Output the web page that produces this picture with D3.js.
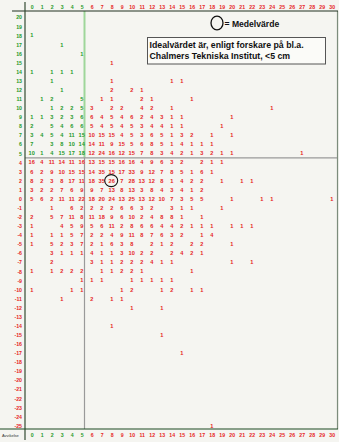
<!DOCTYPE html>
<html lang="sv">
<head>
<meta charset="utf-8">
<script src="https://d3js.org/d3.v7.min.js"></script>
<style>
  body { margin: 0; background: #f5f5f1; }
  text { font-family: Arial, "Liberation Sans", sans-serif; }
</style>
</head>
<body>
<script>
// avvikelse i x (kolumner) och y (rader)
var xLabels = [0,1,2,3,4,5,6,7,8,9,10,11,12,13,14,15,16,17,18,19,20,21,22,23,24,25,26,27,28,29,30];
var yLabels = [20,19,18,17,16,15,14,13,12,11,10,9,8,7,6,5,4,3,2,1,0,-1,-2,-3,-4,-5,-6,-7,-8,-9,-10,-11,-12,-13,-14,-15,-16,-17,-18,-19,-20,-21,-22,-23,-24,-25];

// antal per cell, en rad per y-värde (0 = tom)
//            0  1  2  3  4  5  6  7  8  9 10 11 12 13 14 15 16 17 18 19 20 21 22 23 24 25 26 27 28 29 30
var counts = [
  /* 20 */ [ 0, 0, 0, 0, 0, 0, 0, 0, 0, 0, 0, 0, 0, 0, 0, 0, 0, 0, 0, 0, 0, 0, 0, 0, 0, 0, 0, 0, 0, 0, 0],
  /* 19 */ [ 0, 0, 0, 0, 0, 0, 0, 0, 0, 0, 0, 0, 0, 0, 0, 0, 0, 0, 0, 0, 0, 0, 0, 0, 0, 0, 0, 0, 0, 0, 0],
  /* 18 */ [ 1, 0, 0, 0, 0, 0, 0, 0, 0, 0, 0, 0, 0, 0, 0, 0, 0, 0, 0, 0, 0, 0, 0, 0, 0, 0, 0, 0, 0, 0, 0],
  /* 17 */ [ 0, 0, 0, 1, 0, 0, 0, 0, 0, 0, 0, 0, 0, 0, 0, 0, 0, 0, 0, 0, 0, 0, 0, 0, 0, 0, 0, 0, 0, 0, 0],
  /* 16 */ [ 0, 0, 0, 0, 0, 1, 0, 0, 0, 0, 0, 0, 0, 0, 0, 0, 0, 0, 0, 0, 0, 0, 0, 0, 0, 0, 0, 0, 0, 0, 0],
  /* 15 */ [ 0, 0, 0, 0, 0, 0, 0, 0, 1, 0, 0, 0, 0, 0, 0, 0, 0, 0, 0, 0, 0, 0, 0, 0, 0, 0, 0, 0, 0, 0, 0],
  /* 14 */ [ 1, 0, 1, 1, 1, 0, 0, 0, 0, 0, 0, 0, 0, 0, 0, 0, 0, 0, 0, 0, 0, 0, 0, 0, 0, 0, 0, 0, 0, 0, 0],
  /* 13 */ [ 0, 0, 1, 0, 0, 0, 0, 0, 1, 0, 0, 0, 0, 0, 1, 1, 0, 0, 0, 0, 0, 0, 0, 0, 0, 0, 0, 0, 0, 0, 0],
  /* 12 */ [ 0, 0, 0, 1, 0, 0, 0, 0, 2, 0, 2, 1, 0, 0, 0, 0, 0, 0, 0, 0, 0, 0, 0, 0, 0, 0, 0, 0, 0, 0, 0],
  /* 11 */ [ 0, 1, 2, 0, 0, 5, 0, 1, 1, 0, 0, 2, 1, 0, 0, 0, 1, 0, 0, 0, 0, 0, 0, 0, 0, 0, 0, 0, 0, 0, 0],
  /* 10 */ [ 0, 0, 1, 2, 2, 5, 3, 0, 2, 2, 0, 4, 2, 0, 1, 0, 0, 0, 0, 0, 0, 0, 0, 0, 1, 0, 0, 0, 0, 0, 0],
  /*  9 */ [ 1, 1, 3, 2, 3, 6, 6, 4, 5, 4, 6, 2, 4, 3, 1, 1, 0, 0, 0, 0, 1, 0, 0, 0, 0, 0, 0, 0, 0, 0, 0],
  /*  8 */ [ 2, 0, 5, 4, 6, 6, 5, 4, 5, 4, 5, 3, 4, 4, 1, 1, 0, 0, 0, 1, 0, 0, 0, 0, 0, 0, 0, 0, 0, 0, 0],
  /*  7 */ [ 3, 4, 5, 4,11,15,10,15,15, 4, 5, 3, 6, 5, 1, 3, 2, 0, 1, 0, 1, 0, 0, 0, 0, 0, 0, 0, 0, 0, 0],
  /*  6 */ [ 7, 0, 3, 8,10,14,14,11, 9,15, 5, 6, 8, 5, 1, 4, 1, 1, 1, 0, 0, 0, 0, 0, 0, 0, 0, 0, 0, 0, 0],
  /*  5 */ [10, 1, 4,15,17,18,12,24,16,12,15, 7, 8, 3, 4, 2, 1, 3, 2, 1, 1, 0, 0, 0, 0, 0, 0, 1, 0, 0, 0],
  /*  4 */ [16, 4,11,14,11,16,13,15,15,16,16, 4, 9, 6, 3, 2, 0, 2, 1, 1, 0, 0, 0, 0, 0, 0, 0, 0, 0, 0, 0],
  /*  3 */ [ 6, 2, 9,10,15,15,14,35,15,17,33, 9,12, 7, 8, 5, 1, 6, 1, 0, 0, 0, 0, 0, 0, 0, 0, 0, 0, 0, 0],
  /*  2 */ [ 8, 2, 3, 8,17,11,18,35,26, 7,28,13,12, 8, 1, 4, 2, 2, 0, 1, 0, 1, 1, 0, 0, 0, 0, 0, 0, 0, 0],
  /*  1 */ [ 3, 2, 2, 7, 6, 9, 9, 7,13, 8,13, 3, 8, 4, 3, 4, 1, 2, 0, 0, 0, 0, 0, 0, 0, 0, 0, 0, 0, 0, 0],
  /*  0 */ [ 5, 6, 2,11,11,22,18,20,24,13,25,13,12,10, 7, 3, 5, 5, 0, 0, 1, 0, 0, 1, 1, 0, 0, 0, 0, 0, 1],
  /* -1 */ [ 0, 0, 1, 0, 6, 2, 2, 2, 2, 6, 6, 3, 2, 0, 3, 1, 1, 0, 0, 1, 0, 0, 0, 0, 0, 0, 0, 0, 0, 0, 0],
  /* -2 */ [ 2, 0, 5, 7,11, 8,11,18, 9, 6,10, 2, 4, 8, 8, 1, 0, 1, 0, 0, 0, 0, 0, 0, 0, 0, 0, 0, 0, 0, 0],
  /* -3 */ [ 1, 0, 0, 4, 5, 9, 5, 6,11, 2, 8, 6, 6, 4, 4, 2, 1, 1, 1, 0, 1, 1, 1, 0, 0, 0, 0, 0, 0, 0, 0],
  /* -4 */ [ 1, 0, 1, 1, 5, 7, 2, 2, 4, 9,11, 8, 7, 6, 3, 2, 0, 1, 4, 0, 0, 0, 0, 0, 0, 0, 0, 0, 0, 0, 0],
  /* -5 */ [ 1, 0, 5, 2, 3, 7, 2, 1, 6, 3, 8, 0, 2, 1, 2, 0, 2, 2, 0, 0, 1, 0, 0, 0, 0, 0, 0, 0, 0, 0, 0],
  /* -6 */ [ 0, 0, 3, 1, 1, 1, 4, 1, 1, 3,10, 2, 2, 0, 2, 4, 2, 1, 0, 0, 0, 0, 0, 0, 0, 0, 0, 0, 0, 0, 0],
  /* -7 */ [ 0, 0, 2, 0, 0, 0, 3, 1, 1, 2, 2, 2, 4, 1, 1, 0, 0, 0, 0, 0, 1, 0, 1, 0, 0, 0, 0, 0, 0, 0, 0],
  /* -8 */ [ 1, 0, 1, 2, 2, 2, 0, 1, 1, 2, 2, 1, 0, 0, 0, 0, 1, 0, 0, 0, 0, 0, 0, 0, 0, 0, 0, 0, 0, 0, 0],
  /* -9 */ [ 0, 0, 0, 0, 0, 1, 1, 1, 0, 0, 1, 1, 1, 1, 1, 0, 0, 0, 0, 0, 0, 0, 0, 0, 0, 0, 0, 0, 0, 0, 0],
  /*-10 */ [ 1, 0, 0, 0, 1, 1, 0, 0, 0, 1, 2, 0, 0, 1, 2, 0, 1, 1, 0, 0, 0, 0, 0, 0, 0, 0, 0, 0, 0, 0, 0],
  /*-11 */ [ 0, 0, 0, 1, 0, 0, 2, 0, 1, 1, 0, 0, 0, 0, 0, 0, 0, 0, 0, 0, 0, 0, 0, 0, 0, 0, 0, 0, 0, 0, 0],
  /*-12 */ [ 0, 0, 0, 0, 0, 0, 0, 0, 0, 0, 1, 0, 0, 1, 0, 0, 0, 0, 0, 0, 0, 0, 0, 0, 0, 0, 0, 0, 0, 0, 0],
  /*-13 */ [ 0, 0, 0, 0, 0, 0, 0, 0, 0, 0, 0, 0, 0, 0, 0, 0, 0, 0, 0, 0, 0, 0, 0, 0, 0, 0, 0, 0, 0, 0, 0],
  /*-14 */ [ 0, 0, 0, 0, 0, 0, 0, 0, 1, 0, 0, 0, 0, 0, 0, 0, 0, 0, 0, 0, 0, 0, 0, 0, 0, 0, 0, 0, 0, 0, 0],
  /*-15 */ [ 0, 0, 0, 0, 0, 0, 0, 0, 0, 0, 0, 0, 0, 1, 0, 0, 0, 0, 0, 0, 0, 0, 0, 0, 0, 0, 0, 0, 0, 0, 0],
  /*-16 */ [ 0, 0, 0, 0, 0, 0, 0, 0, 0, 0, 0, 0, 0, 0, 0, 0, 0, 0, 0, 0, 0, 0, 0, 0, 0, 0, 0, 0, 0, 0, 0],
  /*-17 */ [ 0, 0, 0, 0, 0, 0, 0, 0, 0, 0, 0, 0, 0, 0, 0, 1, 0, 0, 0, 0, 0, 0, 0, 0, 0, 0, 0, 0, 0, 0, 0],
  /*-18 */ [ 0, 0, 0, 0, 0, 0, 0, 0, 0, 0, 0, 0, 0, 0, 0, 0, 0, 0, 0, 0, 0, 0, 0, 0, 0, 0, 0, 0, 0, 0, 0],
  /*-19 */ [ 0, 0, 0, 0, 0, 0, 0, 0, 0, 0, 0, 0, 0, 0, 0, 0, 0, 0, 0, 0, 0, 0, 0, 0, 0, 0, 0, 0, 0, 0, 0],
  /*-20 */ [ 0, 0, 0, 0, 0, 0, 0, 0, 0, 0, 0, 0, 0, 0, 0, 0, 0, 0, 0, 0, 0, 0, 0, 0, 0, 0, 0, 0, 0, 0, 0],
  /*-21 */ [ 0, 0, 0, 0, 0, 0, 0, 0, 0, 0, 0, 0, 0, 0, 0, 0, 0, 0, 0, 0, 0, 0, 0, 0, 0, 0, 0, 0, 0, 0, 0],
  /*-22 */ [ 0, 0, 0, 0, 0, 0, 0, 0, 0, 0, 0, 0, 0, 0, 0, 0, 0, 0, 0, 0, 0, 0, 0, 0, 0, 0, 0, 0, 0, 0, 0],
  /*-23 */ [ 0, 0, 0, 0, 0, 0, 0, 0, 0, 0, 0, 0, 0, 0, 0, 0, 0, 0, 0, 0, 0, 0, 0, 0, 0, 0, 0, 0, 0, 0, 0],
  /*-24 */ [ 0, 0, 0, 0, 0, 0, 0, 0, 0, 0, 0, 0, 0, 0, 0, 0, 0, 0, 0, 0, 0, 0, 0, 0, 0, 0, 0, 0, 0, 0, 0],
  /*-25 */ [ 0, 0, 0, 0, 0, 0, 0, 0, 0, 0, 0, 0, 0, 0, 0, 0, 0, 0, 1, 0, 0, 0, 0, 0, 0, 0, 0, 0, 0, 0, 0]
];

var meanCell = [8, 2];      // medelvärdet
var idealLimit = 5;         // <5 cm = grönt
var noteLines = ["Idealvärdet är, enligt forskare på bl.a.", "Chalmers Tekniska Institut, <5 cm"];

var red = "#e61e1e", green = "#1f9a2a";

var width = 339, height = 442;

var x = d3.scalePoint().domain(xLabels).range([31.7, 331.7]);
var y = d3.scalePoint().domain(yLabels).range([17.3, 425.6]);

function isGood(xv, yv) { return xv <= idealLimit && yv >= idealLimit; }

var svg = d3.select("body").append("svg")
    .attr("width", width)
    .attr("height", height);

svg.append("rect").attr("width", width).attr("height", height).attr("fill", "#f5f5f1");

// grid lines
var splitX = x(idealLimit) + 2.8;
var splitY = (y(idealLimit) + y(idealLimit - 1)) / 2;

svg.append("line").attr("x1", splitX).attr("x2", splitX).attr("y1", 11).attr("y2", splitY)
    .attr("stroke", "#9fd69a").attr("stroke-width", 2);
svg.append("line").attr("x1", splitX).attr("x2", splitX).attr("y1", splitY).attr("y2", 429)
    .attr("stroke", "#9a9a9a").attr("stroke-width", 1.2);
svg.append("line").attr("x1", 25).attr("x2", 337).attr("y1", splitY).attr("y2", splitY)
    .attr("stroke", "#9a9a9a").attr("stroke-width", 1.2);
svg.append("line").attr("x1", 337.5).attr("x2", 337.5).attr("y1", 11).attr("y2", 429)
    .attr("stroke", "#7c8c7c").attr("stroke-width", 1.2);

// axes frame
svg.append("line").attr("x1", 12).attr("x2", 338).attr("y1", 11).attr("y2", 11)
    .attr("stroke", "#223322").attr("stroke-width", 1.2);
svg.append("line").attr("x1", 25).attr("x2", 25).attr("y1", 2).attr("y2", 440)
    .attr("stroke", "#334a33").attr("stroke-width", 1.2);
svg.append("line").attr("x1", 0).attr("x2", 338).attr("y1", 429).attr("y2", 429)
    .attr("stroke", "#1d4a22").attr("stroke-width", 1.2);

function styleAxis(g, colorFn) {
  g.select(".domain").remove();
  g.selectAll(".tick line").remove();
  g.selectAll(".tick text")
    .attr("font-size", 5.2)
    .attr("font-weight", "bold")
    .attr("font-family", "Arial, 'Liberation Sans', sans-serif")
    .attr("fill", colorFn);
}

var colColor = function(d) { return d <= idealLimit ? green : red; };
var rowColor = function(d) { return d >= idealLimit ? green : red; };

svg.append("g").attr("transform", "translate(0,9)")
    .call(d3.axisTop(x).tickSize(0).tickPadding(0))
    .call(function(g) { styleAxis(g, colColor); });

svg.append("g").attr("transform", "translate(0,437)")
    .call(d3.axisBottom(x).tickSize(0).tickPadding(0))
    .call(function(g) { styleAxis(g, colColor); g.selectAll(".tick text").attr("dy", "0"); });

svg.append("g").attr("transform", "translate(22,0)")
    .call(d3.axisLeft(y).tickSize(0).tickPadding(0))
    .call(function(g) { styleAxis(g, rowColor); });

svg.append("text").attr("x", 2).attr("y", 437)
    .attr("font-size", 4).attr("fill", "#333").text("Avvikelse");

// cells
var cells = [];
counts.forEach(function(row, i) {
  row.forEach(function(v, j) {
    if (v > 0) cells.push({ x: xLabels[j], y: yLabels[i], n: v });
  });
});

svg.append("g").selectAll("text")
  .data(cells)
  .enter().append("text")
    .attr("x", function(d) { return x(d.x); })
    .attr("y", function(d) { return y(d.y); })
    .attr("dy", "0.36em")
    .attr("text-anchor", "middle")
    .attr("font-size", 5.6)
    .attr("font-weight", "bold")
    .attr("fill", function(d) { return isGood(d.x, d.y) ? green : red; })
    .text(function(d) { return d.n; });

// medelvärde
svg.append("ellipse")
    .attr("cx", x(meanCell[0]) - 0.5).attr("cy", y(meanCell[1]))
    .attr("rx", 6.5).attr("ry", 6)
    .attr("fill", "none").attr("stroke", "#111").attr("stroke-width", 1.1);

// legend
svg.append("ellipse").attr("cx", 217).attr("cy", 23).attr("rx", 6).attr("ry", 6.8)
    .attr("fill", "none").attr("stroke", "#111").attr("stroke-width", 1.3);
svg.append("text").attr("x", 224.5).attr("y", 26.5)
    .attr("font-size", 8.6).attr("font-weight", "bold").attr("fill", "#111")
    .text("= Medelvärde");

svg.append("rect").attr("x", 147.5).attr("y", 37.5).attr("width", 178).attr("height", 26.5)
    .attr("fill", "#fbfbf8").attr("stroke", "#555").attr("stroke-width", 1);
svg.selectAll(".note").data(noteLines).enter().append("text")
    .attr("class", "note")
    .attr("x", 149.5)
    .attr("y", function(d, i) { return 47.5 + i * 11; })
    .attr("font-size", 8.75).attr("font-weight", "bold").attr("fill", "#111")
    .text(function(d) { return d; });
</script>
</body>
</html>
